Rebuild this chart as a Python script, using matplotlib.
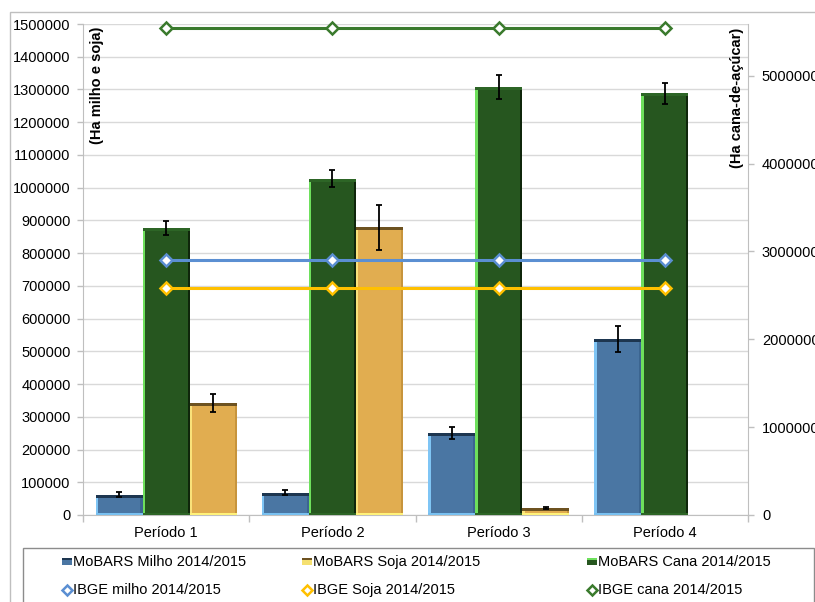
import matplotlib
matplotlib.use("Agg")
import matplotlib.pyplot as plt
from matplotlib.patches import Rectangle
from matplotlib.lines import Line2D
import numpy as np

plt.rcParams['font.family'] = ['Liberation Sans', 'DejaVu Sans']

# ---- data ----
periods = ["Período 1", "Período 2", "Período 3", "Período 4"]
milho = [62000, 68000, 251000, 537000]
milho_err = [7000, 7000, 19000, 39000]
soja = [342000, 879000, 21000, 0]
soja_err = [28000, 68000, 4000, 0]
cana = [3270000, 3830000, 4875000, 4800000]
cana_err = [80000, 100000, 135000, 120000]
ibge_milho = [778000, 778000, 778000, 778000]
ibge_soja = [694000, 694000, 694000, 694000]
ibge_cana = [5545000, 5545000, 5545000, 5545000]
left_ticks = list(range(0, 1500001, 100000))
right_ticks = list(range(0, 5000001, 1000000))

W, H = 815, 602
fig = plt.figure(figsize=(W / 100, H / 100), dpi=100)

def fx(px):
    return px / W

def fy(py):
    return 1 - py / H

x0, x1, y0, y1 = 83, 748, 24, 515
rect = [fx(x0), fy(y1), fx(x1) - fx(x0), fy(y0) - fy(y1)]
ax = fig.add_axes(rect)
ax2 = ax.twinx()
ax3 = ax.twinx()

LMAX = 1500000
RMAX = 5590000
FS = 10.5
grid_c = '#d9d9d9'
spine_c = '#bfbfbf'

x = np.arange(1, len(periods) + 1)
for a in (ax, ax2, ax3):
    a.set_xlim(0.5, len(periods) + 0.5)
ax.set_ylim(0, LMAX)
ax3.set_ylim(0, LMAX)
ax2.set_ylim(0, RMAX)

# base axis styling
ax.set_yticks(left_ticks)
ax.set_yticklabels([str(t) for t in left_ticks], fontsize=FS)
ax.yaxis.grid(True, color=grid_c, lw=1)
ax.set_axisbelow(True)
ax.tick_params(axis='y', length=4, width=1, color=spine_c, pad=5)
ax.set_xticks(x)
ax.set_xticklabels(periods, fontsize=FS)
ax.tick_params(axis='x', length=0, pad=8)
ax.set_xticks(np.arange(0.5, len(periods) + 1, 1.0), minor=True)
ax.tick_params(axis='x', which='minor', length=5, width=1, color=spine_c)
for s in ('top', 'right'):
    ax.spines[s].set_visible(False)
for s in ('left', 'bottom'):
    ax.spines[s].set_color(spine_c)

ax2.set_yticks(right_ticks)
ax2.set_yticklabels([str(t) for t in right_ticks], fontsize=FS)
ax2.tick_params(axis='y', length=4, width=1, color=spine_c, pad=6)
for s in ('top', 'left', 'bottom'):
    ax2.spines[s].set_visible(False)
ax2.spines['right'].set_color(spine_c)

ax3.set_yticks([])
for s in ax3.spines.values():
    s.set_visible(False)

bw = 0.283
px_l = LMAX / (y1 - y0)
px_r = RMAX / (y1 - y0)


def bevel_bars(a, xs, vals, fill, light, dark, topc, botc, pxu):
    a.bar(xs, vals, bw, color=fill, lw=0, zorder=2)
    a.bar(xs - bw / 2, vals, bw * 0.055, align='edge', color=light, lw=0, zorder=3)
    a.bar(xs + bw / 2 - bw * 0.045, vals, bw * 0.045, align='edge', color=dark, lw=0, zorder=3)
    v = np.array(vals, dtype=float)
    t = np.minimum(3 * pxu, v)
    a.bar(xs, t, bw, bottom=v - t, color=topc, lw=0, zorder=3)
    tb = np.minimum(2.5 * pxu, v / 2)
    a.bar(xs, tb, bw, bottom=0, color=botc, lw=0, zorder=3)


# cana bars (right axis)
bevel_bars(ax2, x, cana, '#26561f', '#6ee05c', '#0f260b', '#2d6526', '#2d6526', px_r)
ax2.errorbar(x, cana, yerr=cana_err, fmt='none', ecolor='black', elinewidth=1.3,
             capsize=2, capthick=1.3, zorder=5)
ax2.plot(x, ibge_cana, color='#3a7a2d', lw=2.2, marker='D', markersize=6.5,
         markerfacecolor='white', markeredgecolor='#3a7a2d', markeredgewidth=1.8,
         zorder=6, clip_on=False)

# milho and soja bars (left axis, drawn on top layer)
bevel_bars(ax3, x - bw, milho, '#4a76a3', '#7fc5f5', '#3c6590', '#1d3650', '#78c0f0', px_l)
ax3.errorbar(x - bw, milho, yerr=milho_err, fmt='none', ecolor='black', elinewidth=1.3,
             capsize=2, capthick=1.3, zorder=5)
soja_arr = np.array(soja, dtype=float)
mask = soja_arr > 0
bevel_bars(ax3, (x + bw)[mask], soja_arr[mask], '#e1ad50', '#f9e27a', '#c7943c', '#6d5220', '#fff27a', px_l)
ax3.errorbar((x + bw)[mask], soja_arr[mask], yerr=np.array(soja_err)[mask], fmt='none',
             ecolor='black', elinewidth=1.3, capsize=2, capthick=1.3, zorder=5)

ax3.plot(x, ibge_milho, color='#5b8fd2', lw=2.2, marker='D', markersize=6.5,
         markerfacecolor='white', markeredgecolor='#5b8fd2', markeredgewidth=1.8, zorder=6)
ax3.plot(x, ibge_soja, color='#ffc000', lw=2.2, marker='D', markersize=6.5,
         markerfacecolor='white', markeredgecolor='#ffc000', markeredgewidth=1.8, zorder=6)

# axis titles
fig.text(fx(97), fy(27), "(Ha milho e soja)", rotation=90, ha='center', va='top',
         fontsize=FS, fontweight='bold')
fig.text(fx(737), fy(28), "(Ha cana-de-açúcar)", rotation=90, ha='center', va='top',
         fontsize=FS, fontweight='bold')

# outer chart frame and legend box
fig.add_artist(Rectangle((fx(10), -0.2), 1.5, fy(12) + 0.2, transform=fig.transFigure,
                         fill=False, edgecolor='#bfbfbf', lw=1))
fig.add_artist(Rectangle((fx(23), -0.2), fx(814) - fx(23), fy(548) + 0.2,
                         transform=fig.transFigure, fill=False, edgecolor='#8c8c8c', lw=1))

# legend entries (manual layout)
legend_labels = ["MoBARS Milho 2014/2015", "MoBARS Soja 2014/2015", "MoBARS Cana 2014/2015",
                 "IBGE milho 2014/2015", "IBGE Soja 2014/2015", "IBGE cana 2014/2015"]
bar_styles = [('#4a76a3', '#1d3650'), ('#f5e070', '#6d5220'), ('#26561f', '#6ee05c')]
line_colors = ['#5b8fd2', '#ffc000', '#3a7a2d']
col_x = [73, 313, 598]
rows_y = [562, 590]
for i in range(3):
    tx = col_x[i]
    fc, ec = bar_styles[i]
    fig.add_artist(Rectangle((fx(tx - 11), fy(rows_y[0] + 3)), fx(10) - fx(0), fy(0) - fy(7),
                             transform=fig.transFigure, facecolor=fc, edgecolor='none'))
    fig.add_artist(Rectangle((fx(tx - 11), fy(rows_y[0] - 2)), fx(10) - fx(0), fy(0) - fy(2),
                             transform=fig.transFigure, facecolor=ec, edgecolor='none'))
    fig.text(fx(tx), fy(rows_y[0]), legend_labels[i], fontsize=FS, va='center', ha='left')
    fig.add_artist(Line2D([fx(tx - 6)], [fy(rows_y[1])], marker='D', markersize=5.5,
                          markerfacecolor='white', markeredgecolor=line_colors[i],
                          markeredgewidth=1.8, transform=fig.transFigure, linestyle='none'))
    fig.text(fx(tx), fy(rows_y[1]), legend_labels[3 + i], fontsize=FS, va='center', ha='left')

fig.savefig("out.png", dpi=100)
